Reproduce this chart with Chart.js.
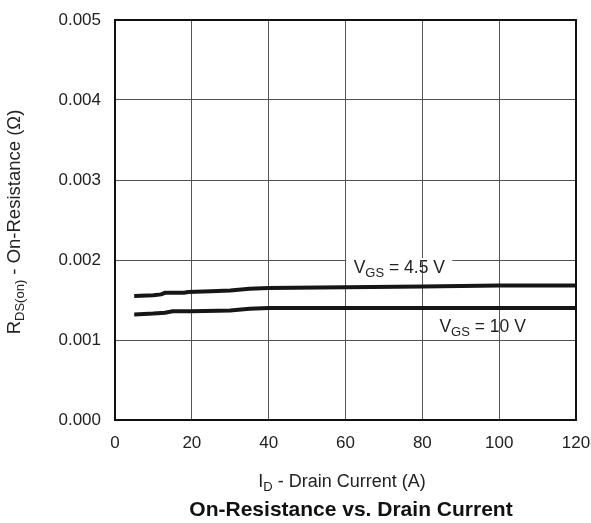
<!DOCTYPE html>
<html>
<head>
<meta charset="utf-8">
<script src="https://cdn.jsdelivr.net/npm/chart.js@4"></script>
<style>
  body { margin: 0; background: #fff; }
  #wrap { width: 591px; height: 523px; }
</style>
</head>
<body>
<div id="wrap"><canvas id="chart" width="591" height="523"></canvas></div>
<script>
// Data
const currentA = [5, 10, 12, 13, 18, 19, 25, 30, 35, 40, 60, 80, 100, 120];
const rds45V = [0.00155, 0.00156, 0.00157, 0.00159, 0.00159, 0.00160, 0.00161, 0.00162, 0.00164, 0.00165, 0.00166, 0.00167, 0.00168, 0.00168];

const current10V = [5, 10, 13, 15, 20, 30, 35, 40, 60, 80, 100, 120];
const rds10V = [0.00132, 0.00133, 0.00134, 0.00136, 0.00136, 0.00137, 0.00139, 0.00140, 0.00140, 0.00140, 0.00140, 0.00140];

const xTicks = [0, 20, 40, 60, 80, 100, 120];
const yTicks = [0.000, 0.001, 0.002, 0.003, 0.004, 0.005];

const FONT = '"Liberation Sans", Arial, Helvetica, sans-serif';

// draw text made of [text, isSubscript] parts, centered at x
function drawParts(ctx, parts, x, y, size) {
    const subSize = Math.round(size * 0.72);
    let total = 0;
    parts.forEach(p => {
        ctx.font = (p[1] ? subSize : size) + 'px ' + FONT;
        total += ctx.measureText(p[0]).width;
    });
    let cx = x - total / 2;
    ctx.textAlign = 'left';
    ctx.textBaseline = 'middle';
    parts.forEach(p => {
        ctx.font = (p[1] ? subSize : size) + 'px ' + FONT;
        ctx.fillText(p[0], cx, p[1] ? y + size * 0.3 : y);
        cx += ctx.measureText(p[0]).width;
    });
    return total;
}

const annotations = {
    id: 'annotations',
    afterDatasetsDraw(chart) {
        const ctx = chart.ctx;
        const area = chart.chartArea;
        const xs = chart.scales.x;
        const ys = chart.scales.y;
        ctx.save();

        // frame
        ctx.strokeStyle = '#111';
        ctx.lineWidth = 2;
        ctx.strokeRect(area.left, area.top, area.right - area.left, area.bottom - area.top);

        // curve labels
        const lbl1x = xs.getPixelForValue(74);
        const lbl1y = ys.getPixelForValue(0.00190);
        ctx.fillStyle = '#fff';
        ctx.fillRect(lbl1x - 53, ys.getPixelForValue(0.002) - 2, 106, 4);
        ctx.fillStyle = '#222';
        drawParts(ctx, [['V', false], ['GS', true], [' = 4.5 V', false]], lbl1x, lbl1y, 17.5);

        const lbl2x = xs.getPixelForValue(95.7);
        const lbl2y = ys.getPixelForValue(0.00116);
        drawParts(ctx, [['V', false], ['GS', true], [' = 10 V', false]], lbl2x, lbl2y, 17.5);

        // x axis title
        drawParts(ctx, [['I', false], ['D', true], [' - Drain Current (A)', false]], 342, 482, 18);

        // y axis title (rotated)
        ctx.save();
        ctx.translate(15, 222);
        ctx.rotate(-Math.PI / 2);
        drawParts(ctx, [['R', false], ['DS(on)', true], [' - On-Resistance (\u03A9)', false]], 0, 0, 18.5);
        ctx.restore();

        // chart title
        ctx.font = 'bold 21px ' + FONT;
        ctx.textAlign = 'center';
        ctx.textBaseline = 'middle';
        ctx.fillStyle = '#111';
        ctx.fillText('On-Resistance vs. Drain Current', 351, 510);

        ctx.restore();
    }
};

const lineStyle = {
    borderColor: '#161616',
    borderWidth: 4,
    pointRadius: 0,
    tension: 0,
    fill: false
};

new Chart(document.getElementById('chart'), {
    type: 'line',
    data: {
        datasets: [
            { ...lineStyle, label: 'VGS = 4.5 V', data: currentA.map((x, i) => ({ x: x, y: rds45V[i] })) },
            { ...lineStyle, label: 'VGS = 10 V', data: current10V.map((x, i) => ({ x: x, y: rds10V[i] })) }
        ]
    },
    options: {
        responsive: false,
        animation: false,
        layout: { padding: { top: 20, right: 15, bottom: 63, left: 0 } },
        plugins: {
            legend: { display: false },
            tooltip: { enabled: false },
            title: { display: false }
        },
        scales: {
            x: {
                type: 'linear',
                min: 0,
                max: 120,
                afterBuildTicks: s => { s.ticks = xTicks.map(v => ({ value: v })); },
                afterFit: s => { s.height = 40; s.paddingLeft = 0; s.paddingRight = 0; },
                grid: { color: '#555', lineWidth: 1, drawTicks: false },
                border: { display: false },
                ticks: {
                    color: '#222',
                    padding: 13,
                    maxRotation: 0,
                    font: { family: FONT, size: 17 }
                }
            },
            y: {
                type: 'linear',
                min: 0,
                max: 0.005,
                afterBuildTicks: s => { s.ticks = yTicks.map(v => ({ value: v })); },
                afterFit: s => { s.width = 115; s.paddingTop = 0; s.paddingBottom = 0; },
                grid: { color: '#555', lineWidth: 1, drawTicks: false },
                border: { display: false },
                ticks: {
                    color: '#222',
                    padding: 14,
                    font: { family: FONT, size: 17 },
                    callback: v => v.toFixed(3)
                }
            }
        }
    },
    plugins: [annotations]
});
</script>
</body>
</html>
